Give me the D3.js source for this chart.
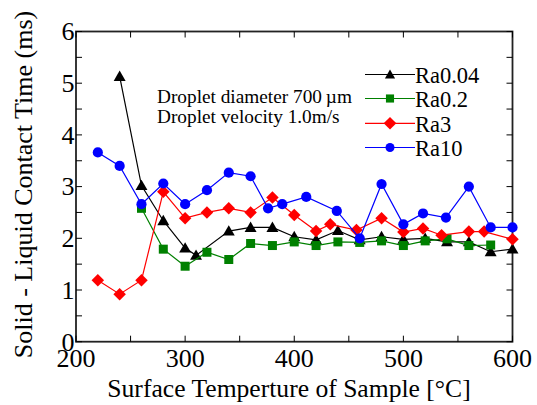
<!DOCTYPE html>
<html><head><meta charset="utf-8">
<script src="https://cdn.jsdelivr.net/npm/d3@7"></script>
<style>body{margin:0;background:#fff}svg{display:block}text{font-family:"Liberation Serif","Times New Roman",serif}</style>
</head><body><svg id="c" width="537" height="405"></svg>
<script>
const ra004X=[240,260,280,300,310,340,360,380,400,420,440,460,480,500,520,540,560,580,600];
const ra004Y=[5.13,3.02,2.34,1.81,1.67,2.14,2.21,2.21,2.03,1.97,2.15,1.97,2.03,1.98,2.0,1.93,1.93,1.74,1.79];
const ra02X=[260,280,300,320,340,360,380,400,420,440,460,480,500,520,540,560,580];
const ra02Y=[2.58,1.79,1.46,1.73,1.59,1.90,1.86,1.93,1.86,1.93,1.92,1.95,1.86,1.95,1.99,1.86,1.87];
const ra3X=[220,240,260,280,300,320,340,360,380,400,420,433,457,480,500,518,535,560,574,600];
const ra3Y=[1.19,0.92,1.19,2.90,2.39,2.50,2.58,2.50,2.79,2.45,2.14,2.27,2.16,2.39,2.12,2.19,2.06,2.13,2.13,1.98];
const ra10X=[220,240,260,280,300,320,340,360,376,389,411,439,460,480,500,518,539,560,580,600];
const ra10Y=[3.66,3.40,2.66,3.06,2.66,2.93,3.27,3.20,2.58,2.66,2.80,2.53,2.00,3.05,2.27,2.48,2.40,3.00,2.21,2.21];
const seriesNames=["Ra0.04","Ra0.2","Ra3","Ra10"];
const seriesColors=["#000000","#008000","#ff0000","#0000ff"];
const xTicks=[200,300,400,500,600];
const yTicks=[0,1,2,3,4,5,6];
const xLabel="Surface Temperture of Sample [°C]";
const yLabel="Solid - Liquid Contact Time (ms)";
const notes=["Droplet diameter 700\u2009\u00B5m","Droplet velocity 1.0m/s"];

const svg=d3.select("#c");
const L=76,R=512.5,T=31.5,B=341.7;
const x=d3.scaleLinear().domain([200,600]).range([L,R]);
const y=d3.scaleLinear().domain([0,6]).range([B,T]);

const series=[
 {x:ra004X,y:ra004Y,sym:d3.symbolTriangle,size:62,lsize:45,rot:0,dy:1},
 {x:ra02X,y:ra02Y,sym:d3.symbolSquare,size:81,lsize:66,rot:0,dy:0},
 {x:ra3X,y:ra3Y,sym:d3.symbolSquare,size:78,lsize:80,rot:45,dy:0},
 {x:ra10X,y:ra10Y,sym:d3.symbolCircle,size:82,lsize:64,rot:0,dy:0}
];

// frame
svg.append("rect").attr("x",L).attr("y",T).attr("width",R-L).attr("height",B-T)
 .attr("fill","none").attr("stroke","#222").attr("stroke-width",1.8);

// ticks
const tk=6;
const xt=d3.range(200,601,50), yt=d3.range(0,6.01,0.5);
xt.forEach(v=>{
  svg.append("line").attr("x1",x(v)).attr("x2",x(v)).attr("y1",B).attr("y2",B-tk).attr("stroke","#000");
  svg.append("line").attr("x1",x(v)).attr("x2",x(v)).attr("y1",T).attr("y2",T+tk).attr("stroke","#000");
});
yt.forEach(v=>{
  svg.append("line").attr("x1",L).attr("x2",L+tk).attr("y1",y(v)).attr("y2",y(v)).attr("stroke","#000");
  svg.append("line").attr("x1",R).attr("x2",R-tk).attr("y1",y(v)).attr("y2",y(v)).attr("stroke","#000");
});
xTicks.forEach(v=>svg.append("text").attr("x",x(v)).attr("y",B+25).attr("text-anchor","middle")
  .attr("font-size",26).text(v));
yTicks.forEach(v=>svg.append("text").attr("x",L-1.5).attr("y",y(v)+8.8).attr("text-anchor","end")
  .attr("font-size",26).text(v));

svg.append("text").attr("x",289).attr("y",396.5).attr("text-anchor","middle").attr("font-size",25.6).text(xLabel);
svg.append("text").attr("transform",`translate(32,184.5) rotate(-90)`).attr("text-anchor","middle")
  .attr("font-size",26).text(yLabel);

function marker(sel,s,c,sz){
  sel.attr("d",d3.symbol().type(s.sym).size(sz)).attr("fill",c);
}
// series
series.forEach((s,i)=>{
  const pts=s.x.map((v,j)=>[x(v),y(s.y[j])]);
  svg.append("path").attr("d",d3.line()(pts)).attr("fill","none").attr("stroke",seriesColors[i]).attr("stroke-width",1.2);
  svg.selectAll(null).data(pts).enter().append("path")
    .attr("transform",d=>`translate(${d[0]},${d[1]+s.dy}) rotate(${s.rot})`)
    .call(marker,s,seriesColors[i],s.size);
});

// legend
const lx0=365,lx1=415,ly=[74.5,98.5,123.3,147.5];
series.forEach((s,i)=>{
  svg.append("line").attr("x1",lx0).attr("x2",lx1).attr("y1",ly[i]).attr("y2",ly[i]).attr("stroke",seriesColors[i]).attr("stroke-width",1.2);
  svg.append("path").attr("transform",`translate(${(lx0+lx1)/2},${ly[i]+s.dy}) rotate(${s.rot})`)
    .call(marker,s,seriesColors[i],s.lsize);
  svg.append("text").attr("x",lx1).attr("y",ly[i]+8.5).attr("font-size",22.5).text(seriesNames[i]);
});

notes.forEach((t,i)=>svg.append("text").attr("x",157).attr("y",103+i*20).attr("font-size",19.3).text(t));
</script></body></html>
